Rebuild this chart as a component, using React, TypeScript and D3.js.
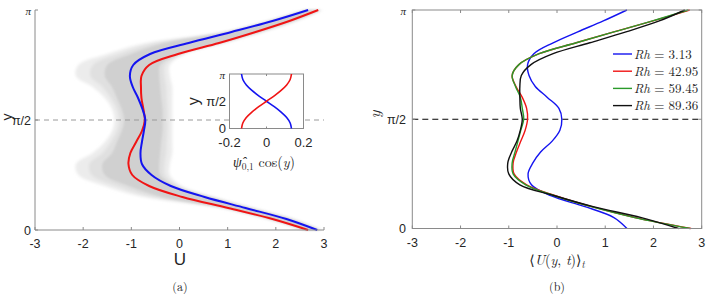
import React from "react";
import * as d3 from "d3";

// ---------- data ----------
// sample positions, as fraction of pi (y = f * pi)
const Y_FRAC = [0, 0.05, 0.1, 0.15, 0.2, 0.25, 0.3, 0.35, 0.4, 0.45, 0.5, 0.55, 0.6, 0.65, 0.7, 0.75, 0.8, 0.85, 0.9, 0.95, 1];

// panel (a): two highlighted profiles
const A_BLUE = [2.86, 2.22, 1.37, 0.52, -0.18, -0.58, -0.78, -0.81, -0.78, -0.74, -0.71, -0.77, -0.86, -0.97, -1.03, -0.96, -0.61, 0.19, 1.08, 1.93, 2.67];
const A_RED = [2.67, 1.93, 1.01, 0.06, -0.63, -0.98, -1.06, -1.02, -0.9, -0.78, -0.72, -0.75, -0.79, -0.8, -0.79, -0.63, -0.03, 0.82, 1.58, 2.28, 2.88];
// panel (a): ensemble envelope (grey cloud of instantaneous profiles)
const ENS_OUTER_LO = [2.58, 1.8, 0.85, -0.75, -1.55, -2.1, -2.15, -1.8, -1.55, -1.4, -1.35, -1.4, -1.55, -1.8, -2.15, -2.1, -1.5, -0.7, 0.9, 1.8, 2.58];
const ENS_CORE_LO = [2.63, 1.88, 0.95, -0.35, -1.05, -1.55, -1.6, -1.4, -1.3, -1.2, -1.15, -1.2, -1.3, -1.4, -1.55, -1.5, -1.0, -0.3, 1.0, 1.88, 2.63];
const ENS_CORE_HI = [2.92, 2.3, 1.45, 0.62, -0.1, -0.4, -0.42, -0.4, -0.38, -0.35, -0.35, -0.35, -0.38, -0.4, -0.42, -0.4, 0.0, 0.85, 1.65, 2.35, 2.93];
const ENS_OUTER_HI = [2.97, 2.38, 1.55, 0.72, 0.05, -0.2, -0.2, -0.15, -0.15, -0.15, -0.15, -0.15, -0.15, -0.15, -0.2, -0.2, 0.12, 0.95, 1.75, 2.45, 2.98];

// inset: psi_{0,1} cos(y)
const INSET_FRAC = [0, 0.1, 0.2, 0.3, 0.4, 0.5, 0.6, 0.7, 0.8, 0.9, 1];
const INSET_BLUE = [0.135, 0.128, 0.109, 0.079, 0.042, 0, -0.042, -0.079, -0.109, -0.128, -0.135];
const INSET_RED = [-0.135, -0.128, -0.109, -0.079, -0.042, 0, 0.042, 0.079, 0.109, 0.128, 0.135];

// panel (b): time-averaged profiles
const RH_LABELS = ["3.13", "42.95", "59.45", "89.36"];
const RH_COLORS = ["#1414f0", "#f01414", "#2a9a2a", "#111111"];
const B_RH313 = [1.45, 1.18, 0.58, -0.13, -0.53, -0.6, -0.5, -0.34, -0.1, 0.06, 0.1, 0.04, -0.2, -0.45, -0.58, -0.61, -0.48, -0.08, 0.43, 0.96, 1.45];
const B_RH4295 = [2.78, 1.62, 0.72, -0.03, -0.63, -0.89, -0.91, -0.84, -0.75, -0.66, -0.61, -0.63, -0.72, -0.85, -0.93, -0.79, -0.37, 0.4, 1.18, 1.99, 2.75];
const B_RH5945 = [2.76, 1.61, 0.71, -0.05, -0.65, -0.91, -0.93, -0.87, -0.81, -0.75, -0.69, -0.72, -0.76, -0.86, -0.93, -0.79, -0.37, 0.4, 1.18, 1.98, 2.72];
const B_RH8936 = [2.52, 1.75, 0.75, -0.05, -0.77, -1.0, -1.02, -0.94, -0.83, -0.76, -0.72, -0.76, -0.77, -0.77, -0.74, -0.54, -0.08, 0.68, 1.43, 2.12, 2.65];
const B_SERIES = [B_RH313, B_RH4295, B_RH5945, B_RH8936];

const X_TICKS = [-3, -2, -1, 0, 1, 2, 3];
const INSET_X_TICKS = [-0.2, 0, 0.2];
const Y_TICKS = [
  { v: 0, label: "0" },
  { v: Math.PI / 2, label: "π/2" },
  { v: Math.PI, label: "π" },
];

// ---------- layout ----------
const W = 708;
const H = 300;
const PI = Math.PI;
const SANS = "'Liberation Sans', Arial, Helvetica, sans-serif";
const SERIF = "'Latin Modern Roman', 'CMU Serif', 'Liberation Serif', 'DejaVu Serif', serif";
const TXT = "#262626";
const AX = "#8a8a8a";

const xL = d3.scaleLinear().domain([-3, 3]).range([35, 324]);
const yL = d3.scaleLinear().domain([0, PI]).range([230, 10]);
const xR = d3.scaleLinear().domain([-3, 3]).range([412.3, 701.7]);
const yR = d3.scaleLinear().domain([0, PI]).range([228.5, 10]);
const xI = d3.scaleLinear().domain([-0.2, 0.2]).range([229.5, 303.5]);
const yI = d3.scaleLinear().domain([0, PI]).range([128.5, 74]);

function profileLine(xs: any, ys: any, frac: number[], vals: number[]) {
  const pts = frac.map((f, i) => [vals[i], f * PI] as [number, number]);
  return d3
    .line<[number, number]>()
    .x((d) => xs(d[0]))
    .y((d) => ys(d[1]))
    .curve(d3.curveCatmullRom.alpha(0.5))(pts) as string;
}

function band(lo: number[], hi: number[]) {
  const pts = Y_FRAC.map((f, i) => ({ y: f * PI, a: lo[i], b: hi[i] }));
  return d3
    .area<any>()
    .y((d) => yL(d.y))
    .x0((d) => xL(d.a))
    .x1((d) => xL(d.b))
    .curve(d3.curveCatmullRom.alpha(0.5))(pts) as string;
}

const MID_LO = ENS_OUTER_LO.map((v, i) => (v + ENS_CORE_LO[i]) / 2);
const MID_HI = ENS_OUTER_HI.map((v, i) => (v + ENS_CORE_HI[i]) / 2);

export default function App() {
  return (
    <div style={{ position: "fixed", left: 0, top: 0, width: W, height: H, background: "#fff" }}>
      <svg width={W} height={H} viewBox={`0 0 ${W} ${H}`} style={{ display: "block" }}>
        <defs>
          <filter id="soft" x="-10%" y="-10%" width="120%" height="120%">
            <feGaussianBlur stdDeviation="1.6" />
          </filter>
          <filter id="soft2" x="-10%" y="-10%" width="120%" height="120%">
            <feGaussianBlur stdDeviation="0.8" />
          </filter>
        </defs>
        <rect width={W} height={H} fill="#fff" />

        {/* ===== Panel (a) ===== */}
        <g filter="url(#soft)">
          <path d={band(ENS_OUTER_LO, ENS_OUTER_HI)} fill="#ececec" />
          <path d={band(MID_LO, MID_HI)} fill="#e0e0e0" />
        </g>
        <path d={band(ENS_CORE_LO, ENS_CORE_HI)} fill="#d0d0d0" filter="url(#soft2)" />
        <line x1={xL(-3)} x2={xL(3)} y1={yL(PI / 2)} y2={yL(PI / 2)} stroke="#9a9a9a" strokeWidth={1} strokeDasharray="5,4" />
        <path d={profileLine(xL, yL, Y_FRAC, A_RED)} fill="none" stroke="#f01414" strokeWidth={2} />
        <path d={profileLine(xL, yL, Y_FRAC, A_BLUE)} fill="none" stroke="#1414f0" strokeWidth={2} />

        {/* axes (a) */}
        <line x1={xL(-3)} x2={xL(-3)} y1={yL(0)} y2={yL(PI)} stroke={AX} strokeWidth={1} />
        <line x1={xL(-3)} x2={xL(3)} y1={yL(0)} y2={yL(0)} stroke={AX} strokeWidth={1} />
        {X_TICKS.map((t) => (
          <g key={"xa" + t}>
            <line x1={xL(t)} x2={xL(t)} y1={yL(0)} y2={yL(0) - 3} stroke={AX} />
            <text x={xL(t)} y={248} textAnchor="middle" fontFamily={SANS} fontSize={12.5} fill={TXT}>
              {t}
            </text>
          </g>
        ))}
        {Y_TICKS.map((t) => (
          <g key={"ya" + t.label}>
            <line x1={xL(-3)} x2={xL(-3) + 3} y1={yL(t.v)} y2={yL(t.v)} stroke={AX} />
            <text
              x={31}
              y={yL(t.v) + 4.5}
              textAnchor="end"
              fontFamily={t.label === "π" ? SERIF : SANS}
              fontStyle={t.label === "π" ? "italic" : "normal"}
              fontSize={t.label === "π" ? 11 : 12.5}
              fill={TXT}
            >
              {t.label}
            </text>
          </g>
        ))}
        <text x={180} y={265} textAnchor="middle" fontFamily={SANS} fontSize={17} fill={TXT}>
          U
        </text>
        <text transform={`translate(12,${yL(PI / 2) - 3}) rotate(-90)`} textAnchor="middle" fontFamily={SANS} fontSize={14} fill={TXT}>
          y
        </text>
        <text x={180} y={291} textAnchor="middle" fontFamily={SERIF} fontSize={12} fill={TXT}>
          (a)
        </text>

        {/* inset */}
        <rect x={xI(-0.2)} y={yI(PI)} width={xI(0.2) - xI(-0.2)} height={yI(0) - yI(PI)} fill="#fff" stroke={AX} strokeWidth={1} />
        <path d={profileLine(xI, yI, INSET_FRAC, INSET_BLUE)} fill="none" stroke="#1414f0" strokeWidth={1.6} />
        <path d={profileLine(xI, yI, INSET_FRAC, INSET_RED)} fill="none" stroke="#f01414" strokeWidth={1.6} />
        {INSET_X_TICKS.map((t) => (
          <g key={"xi" + t}>
            <line x1={xI(t)} x2={xI(t)} y1={yI(0)} y2={yI(0) - 2} stroke={AX} />
            <line x1={xI(t)} x2={xI(t)} y1={yI(PI)} y2={yI(PI) + 2} stroke={AX} />
            <text x={xI(t)} y={146.5} textAnchor="middle" fontFamily={SANS} fontSize={13} fill={TXT}>
              {t === 0 ? "0" : t < 0 ? "-0.2" : "0.2"}
            </text>
          </g>
        ))}
        {Y_TICKS.map((t) => (
          <text
            key={"yi" + t.label}
            x={t.label === "π" ? 225 : 226}
            y={yI(t.v) + (t.label === "0" ? 4 : 4.5)}
            textAnchor="end"
            fontFamily={t.label === "π" ? SERIF : SANS}
            fontStyle={t.label === "π" ? "italic" : "normal"}
            fontSize={t.label === "π" ? 11 : 13}
            fill={TXT}
          >
            {t.label}
          </text>
        ))}
        <text transform={`translate(199,${yI(PI / 2)}) rotate(-90)`} textAnchor="middle" fontFamily={SANS} fontSize={16} fill={TXT}>
          y
        </text>
        <text x={264} y={167} textAnchor="middle" fontFamily={SERIF} fontSize={14} fill={TXT}>
          <tspan fontStyle="italic">{"ψ\u0302"}</tspan>
          <tspan fontSize={9.5} dy={3}>0,1</tspan>
          <tspan dy={-3}> cos(</tspan>
          <tspan fontStyle="italic">y</tspan>
          <tspan>)</tspan>
        </text>

        {/* ===== Panel (b) ===== */}
        <line x1={xR(-3)} x2={xR(3)} y1={yR(PI / 2)} y2={yR(PI / 2)} stroke="#000" strokeWidth={1} strokeDasharray="6,4" />
        {B_SERIES.map((s, i) => (
          <path key={"b" + i} d={profileLine(xR, yR, Y_FRAC, s)} fill="none" stroke={RH_COLORS[i]} strokeWidth={1.4} />
        ))}
        <rect x={xR(-3)} y={yR(PI)} width={xR(3) - xR(-3)} height={yR(0) - yR(PI)} fill="none" stroke={AX} strokeWidth={1} />
        {X_TICKS.map((t) => (
          <g key={"xb" + t}>
            <line x1={xR(t)} x2={xR(t)} y1={yR(0)} y2={yR(0) - 3} stroke={AX} />
            <line x1={xR(t)} x2={xR(t)} y1={yR(PI)} y2={yR(PI) + 3} stroke={AX} />
            <text x={xR(t)} y={247} textAnchor="middle" fontFamily={SANS} fontSize={12.5} fill={TXT}>
              {t}
            </text>
          </g>
        ))}
        {Y_TICKS.map((t) => (
          <g key={"yb" + t.label}>
            <line x1={xR(-3)} x2={xR(-3) + 3} y1={yR(t.v)} y2={yR(t.v)} stroke={AX} />
            <line x1={xR(3)} x2={xR(3) - 3} y1={yR(t.v)} y2={yR(t.v)} stroke={AX} />
            <text
              x={406}
              y={yR(t.v) + 4.5}
              textAnchor="end"
              fontFamily={t.label === "π" ? SERIF : SANS}
              fontStyle={t.label === "π" ? "italic" : "normal"}
              fontSize={t.label === "π" ? 11 : 12.5}
              fill={TXT}
            >
              {t.label}
            </text>
          </g>
        ))}
        <text transform={`translate(380,${yR(PI / 2) - 5}) rotate(-90)`} textAnchor="middle" fontFamily={SERIF} fontStyle="italic" fontSize={16} fill={TXT}>
          y
        </text>
        <text x={557} y={265} textAnchor="middle" fontFamily={SERIF} fontSize={14} fill={TXT}>
          <tspan>⟨</tspan>
          <tspan fontStyle="italic">U</tspan>
          <tspan>(</tspan>
          <tspan fontStyle="italic">y</tspan>
          <tspan>, </tspan>
          <tspan fontStyle="italic">t</tspan>
          <tspan>)⟩</tspan>
          <tspan fontStyle="italic" fontSize={10} dy={3}>t</tspan>
        </text>
        <text x={557} y={291} textAnchor="middle" fontFamily={SERIF} fontSize={12} fill={TXT}>
          (b)
        </text>

        {/* legend */}
        {RH_LABELS.map((lab, i) => {
          const y = 54 + i * 17.2;
          return (
            <g key={"lg" + i}>
              <line x1={613} x2={632} y1={y} y2={y} stroke={RH_COLORS[i]} strokeWidth={1.4} />
              <text x={634} y={y + 4.5} fontFamily={SERIF} fontSize={13} fill={TXT}>
                <tspan fontStyle="italic">Rh</tspan>
                <tspan> = {lab}</tspan>
              </text>
            </g>
          );
        })}
      </svg>
    </div>
  );
}
